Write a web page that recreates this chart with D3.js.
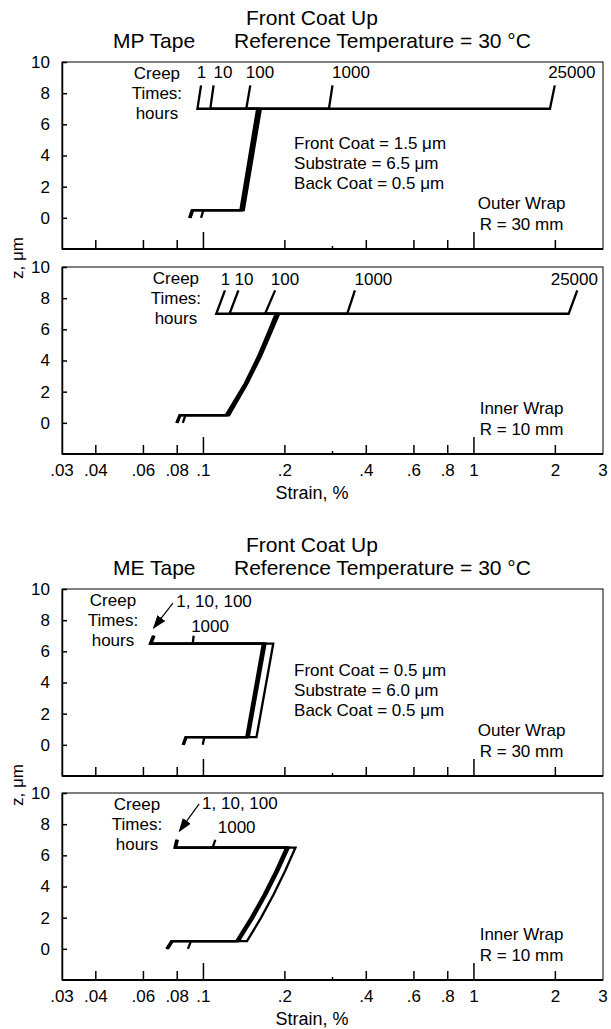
<!DOCTYPE html>
<html>
<head>
<meta charset="utf-8">
<script src="https://cdn.jsdelivr.net/npm/d3@7"></script>
<style>
  body { margin: 0; background: #fff; }
  svg { display: block; font-family: 'Liberation Sans', Arial, Helvetica, sans-serif; }
</style>
</head>
<body>
<div id="chart"></div>
<script>
(function(d3) {
  'use strict';

  // ---- data (strain in %, z in micrometres) ----
  var creepTimes = ['1', '10', '100', '1000', '25000'];
  var meTimeLabels = ['1, 10, 100', '1000'];

  var xTickValues = [0.03, 0.04, 0.06, 0.08, 0.1, 0.2, 0.4, 0.6, 0.8, 1, 2, 3];
  var xTickLabels = ['.03', '.04', '.06', '.08', '.1', '.2', '.4', '.6', '.8', '1', '2', '3'];
  var xMajorTicks = [0.1, 1];
  var xTinyTicks = [0.3];
  var yTickValues = [0, 2, 4, 6, 8, 10];

  var mpLayers = ['Front Coat = 1.5 \u03bcm', 'Substrate = 6.5 \u03bcm', 'Back Coat = 0.5 \u03bcm'];
  var meLayers = ['Front Coat = 0.5 \u03bcm', 'Substrate = 6.0 \u03bcm', 'Back Coat = 0.5 \u03bcm'];

  // MP tape, outer wrap R = 30 mm
  var mpOuterZ     = [0, 0.5, 0.5, 7.0, 7.0, 8.5];
  var mpOuterH1    = [0.0885, 0.0905, 0.137, 0.158, 0.095, 0.098];
  var mpOuterH10   = [0.0890, 0.0910, 0.138, 0.159, 0.106, 0.109];
  var mpOuterH100  = [0.0895, 0.0915, 0.139, 0.160, 0.144, 0.149];
  var mpOuterH1000 = [0.0895, 0.0915, 0.140, 0.1615, 0.291, 0.300];
  var mpOuterH25000 = [0.098, 0.100, 0.141, 0.163, 1.91, 1.99];

  // MP tape, inner wrap R = 10 mm
  var mpInnerZ     = [0, 0.5, 0.5, 2.5, 4.25, 5.75, 7.0, 7.0, 8.5];
  var mpInnerH1    = [0.0794, 0.0816, 0.121, 0.142, 0.159, 0.173, 0.185, 0.1115, 0.1201];
  var mpInnerH10   = [0.0796, 0.0818, 0.122, 0.143, 0.160, 0.174, 0.187, 0.1248, 0.1347];
  var mpInnerH100  = [0.0800, 0.0820, 0.123, 0.1435, 0.161, 0.1755, 0.188, 0.1689, 0.1841];
  var mpInnerH1000 = [0.0802, 0.0822, 0.124, 0.1445, 0.162, 0.1765, 0.189, 0.340, 0.363];
  var mpInnerH25000 = [0.0839, 0.0858, 0.1245, 0.145, 0.163, 0.1775, 0.1905, 2.24, 2.41];

  // ME tape, outer wrap R = 30 mm
  var meOuterZ     = [0, 0.5, 0.5, 6.5, 6.5, 7.0];
  var meOuterH1    = [0.0838, 0.0858, 0.1440, 0.1659, 0.0634, 0.0651];
  var meOuterH10   = [0.0842, 0.0862, 0.1455, 0.1678, 0.0638, 0.0655];
  var meOuterH100  = [0.0846, 0.0866, 0.1470, 0.1696, 0.0642, 0.0659];
  var meOuterH1000 = [0.0994, 0.1008, 0.1571, 0.1812, 0.0913, 0.0920];

  // ME tape, inner wrap R = 10 mm
  var meInnerZ     = [0, 0.5, 0.5, 2.0, 3.5, 5.0, 6.5, 6.5, 7.0];
  var meInnerH1    = [0.0729, 0.0760, 0.1322, 0.1497, 0.1673, 0.1848, 0.2023, 0.0782, 0.0794];
  var meInnerH10   = [0.0734, 0.0765, 0.1337, 0.1514, 0.1691, 0.1868, 0.2045, 0.0787, 0.0799];
  var meInnerH100  = [0.0739, 0.0770, 0.1351, 0.1530, 0.1710, 0.1889, 0.2068, 0.0792, 0.0804];
  var meInnerH1000 = [0.0876, 0.0900, 0.1449, 0.1634, 0.1819, 0.2004, 0.2189, 0.1082, 0.1106];

  // ---- layout ----
  var width = 611;
  var height = 1029;
  var left = 62;
  var right = 603;
  var panelH = 187;
  var fontSize = 17;

  var panels = [
    { top: 62, z: mpOuterZ,
      curves: [mpOuterH1, mpOuterH10, mpOuterH100, mpOuterH1000, mpOuterH25000],
      labels: creepTimes, labelX: [0.0984, 0.1181, 0.1618, 0.351, 2.30], labelZ: [8.95, 8.95, 8.95, 8.95, 8.95],
      creepX: 0.0673, layers: mpLayers, wrap: ['Outer Wrap', 'R = 30 mm'], tickLabels: false },
    { top: 267, z: mpInnerZ,
      curves: [mpInnerH1, mpInnerH10, mpInnerH100, mpInnerH1000, mpInnerH25000],
      labels: creepTimes, labelX: [0.1206, 0.1412, 0.2002, 0.425, 2.35], labelZ: [8.85, 8.85, 8.85, 8.85, 8.85],
      creepX: 0.0791, layers: null, wrap: ['Inner Wrap', 'R = 10 mm'], tickLabels: true, strainY: 499 },
    { top: 589, z: meOuterZ,
      curves: [meOuterH1, meOuterH10, meOuterH100, meOuterH1000],
      labels: meTimeLabels, labelX: [0.1094, 0.1058], labelZ: [8.85, 7.25],
      arrow: [[0.0771, 9.1], [0.0655, 7.5]],
      creepX: 0.0463, layers: meLayers, wrap: ['Outer Wrap', 'R = 30 mm'], tickLabels: false },
    { top: 793, z: meInnerZ,
      curves: [meInnerH1, meInnerH10, meInnerH100, meInnerH1000],
      labels: meTimeLabels, labelX: [0.1364, 0.1327], labelZ: [8.95, 7.45],
      arrow: [[0.0964, 9.3], [0.0815, 7.55]],
      creepX: 0.0568, layers: null, wrap: ['Inner Wrap', 'R = 10 mm'], tickLabels: true, strainY: 1025 }
  ];

  var svg = d3.select('#chart')
    .append('svg')
    .attr('width', width)
    .attr('height', height);

  svg.append('defs').append('marker')
    .attr('id', 'arrowhead')
    .attr('viewBox', '0 0 10 10')
    .attr('refX', 9)
    .attr('refY', 5)
    .attr('markerWidth', 14)
    .attr('markerHeight', 14)
    .attr('markerUnits', 'userSpaceOnUse')
    .attr('orient', 'auto')
    .append('path')
    .attr('d', 'M0,1.5 L10,5 L0,8.5 Z')
    .attr('fill', '#000');

  var x = d3.scaleLog()
    .domain([0.03, 3])
    .range([left, right]);

  // titles
  function titles(y0, tape) {
    svg.append('text')
      .attr('x', 246).attr('y', y0)
      .attr('font-size', 21)
      .text('Front Coat Up');
    svg.append('text')
      .attr('x', 113).attr('y', y0 + 23)
      .attr('font-size', 21)
      .text(tape);
    svg.append('text')
      .attr('x', 234).attr('y', y0 + 23)
      .attr('font-size', 21)
      .text('Reference Temperature = 30 \u00b0C');
  }
  titles(25, 'MP Tape');
  titles(552, 'ME Tape');

  // z label for each pair of panels
  [258, 785].forEach(function(cy) {
    svg.append('text')
      .attr('transform', 'translate(23,' + cy + ') rotate(-90)')
      .attr('text-anchor', 'middle')
      .attr('font-size', 17)
      .text('z, \u03bcm');
  });

  var line = d3.line()
    .x(function(d) { return x(d[0]); })
    .y(function(d) { return d[1]; });

  panels.forEach(function(p) {
    var y = d3.scaleLinear()
      .domain([-2, 10])
      .range([p.top + panelH, p.top]);
    var bottom = p.top + panelH;
    var g = svg.append('g');

    // frame
    g.append('rect')
      .attr('x', left).attr('y', p.top)
      .attr('width', right - left).attr('height', panelH)
      .attr('fill', 'none')
      .attr('stroke', '#000')
      .attr('stroke-width', 1);

    // y axis
    var yAxis = d3.axisLeft(y)
      .tickValues(yTickValues)
      .tickSizeInner(-5)
      .tickSizeOuter(0)
      .tickPadding(12);
    var ya = g.append('g')
      .attr('transform', 'translate(' + left + ',0)')
      .call(yAxis);
    ya.selectAll('text').attr('font-size', fontSize).attr('font-family', null).attr('fill', '#000');
    ya.selectAll('line').attr('stroke', '#000').attr('stroke-width', 1.5);
    ya.select('.domain').attr('stroke', '#000').attr('stroke-width', 1.5);

    // x axis line and inward ticks
    g.append('line')
      .attr('x1', left).attr('x2', right)
      .attr('y1', bottom).attr('y2', bottom)
      .attr('stroke', '#000')
      .attr('stroke-width', 2);

    var tickVals = xTickValues.slice(1, -1).concat(xTinyTicks);
    g.selectAll('.xtick')
      .data(tickVals)
      .enter()
      .append('line')
      .attr('class', 'xtick')
      .attr('x1', function(d) { return x(d); })
      .attr('x2', function(d) { return x(d); })
      .attr('y1', bottom)
      .attr('y2', function(d) {
        if (xMajorTicks.indexOf(d) >= 0) return bottom - 17;
        if (xTinyTicks.indexOf(d) >= 0) return bottom - 3;
        return bottom - 9;
      })
      .attr('stroke', '#000')
      .attr('stroke-width', 1.5);

    if (p.tickLabels) {
      g.selectAll('.xlabel')
        .data(xTickValues)
        .enter()
        .append('text')
        .attr('class', 'xlabel')
        .attr('x', function(d) { return x(d); })
        .attr('y', bottom + 22)
        .attr('text-anchor', 'middle')
        .attr('font-size', fontSize)
        .text(function(d, i) { return xTickLabels[i]; });

      svg.append('text')
        .attr('x', 312)
        .attr('y', p.strainY)
        .attr('text-anchor', 'middle')
        .attr('font-size', 18)
        .text('Strain, %');
    }

    // strain profiles, one per creep time
    g.selectAll('.curve')
      .data(p.curves)
      .enter()
      .append('path')
      .attr('class', 'curve')
      .attr('d', function(c) {
        return line(c.map(function(s, i) { return [s, y(p.z[i])]; }));
      })
      .attr('fill', 'none')
      .attr('stroke', '#000')
      .attr('stroke-width', 2.3)
      .attr('stroke-linejoin', 'miter');

    // creep time labels
    g.selectAll('.tlabel')
      .data(p.labels)
      .enter()
      .append('text')
      .attr('class', 'tlabel')
      .attr('x', function(d, i) { return x(p.labelX[i]); })
      .attr('y', function(d, i) { return y(p.labelZ[i]); })
      .attr('text-anchor', 'middle')
      .attr('font-size', fontSize)
      .text(function(d) { return d; });

    if (p.arrow) {
      g.append('line')
        .attr('x1', x(p.arrow[0][0])).attr('y1', y(p.arrow[0][1]))
        .attr('x2', x(p.arrow[1][0])).attr('y2', y(p.arrow[1][1]))
        .attr('stroke', '#000')
        .attr('stroke-width', 1.2)
        .attr('marker-end', 'url(#arrowhead)');
    }

    g.selectAll('.creep')
      .data(['Creep', 'Times:', 'hours'])
      .enter()
      .append('text')
      .attr('class', 'creep')
      .attr('x', x(p.creepX))
      .attr('y', function(d, i) { return y([8.9, 7.65, 6.35][i]); })
      .attr('text-anchor', 'middle')
      .attr('font-size', fontSize)
      .text(function(d) { return d; });

    if (p.layers) {
      g.selectAll('.layer')
        .data(p.layers)
        .enter()
        .append('text')
        .attr('class', 'layer')
        .attr('x', x(0.2163))
        .attr('y', function(d, i) { return y([4.44, 3.16, 1.85][i]); })
        .attr('font-size', fontSize)
        .text(function(d) { return d; });
    }

    g.selectAll('.wrap')
      .data(p.wrap)
      .enter()
      .append('text')
      .attr('class', 'wrap')
      .attr('x', x(1.5))
      .attr('y', function(d, i) { return y([0.55, -0.8][i]); })
      .attr('text-anchor', 'middle')
      .attr('font-size', fontSize)
      .text(function(d) { return d; });
  });

})(window.d3);
</script>
</body>
</html>
